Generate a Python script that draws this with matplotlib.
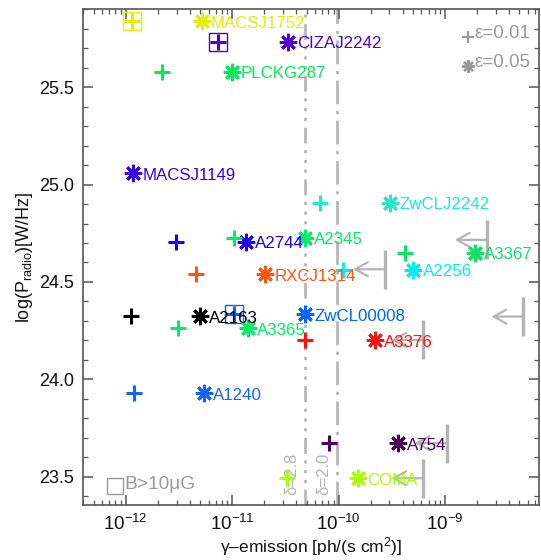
import numpy as np
import matplotlib
matplotlib.use("Agg")
import matplotlib.pyplot as plt
from matplotlib.ticker import FixedLocator, MultipleLocator, LogLocator, NullFormatter

plt.rcParams['font.family'] = ['Liberation Sans', 'DejaVu Sans']
plt.rcParams['mathtext.fontset'] = 'custom'
plt.rcParams['mathtext.rm'] = 'Liberation Sans'
plt.rcParams['mathtext.it'] = 'Liberation Sans:italic'

# ---------------- data ----------------
names = ['MACSJ1752', 'CIZAJ2242', 'PLCKG287', 'MACSJ1149', 'A2744', 'A2345',
         'ZwCLJ2242', 'A3367', 'A2256', 'RXCJ1314', 'A2163', 'ZwCL00008',
         'A3365', 'A3376', 'A1240', 'A754', 'COMA']
log_p = [25.84, 25.734, 25.58, 25.058, 24.707, 24.728,
         24.907, 24.650, 24.562, 24.541, 24.325, 24.334,
         24.262, 24.202, 23.928, 23.671, 23.493]
gamma_eps05 = [5.18e-12, 3.37e-11, 9.9e-12, 1.18e-12, 1.34e-11, 4.84e-11,
               3.05e-10, 1.92e-9, 5.05e-10, 2.04e-11, 4.99e-12, 4.84e-11,
               1.42e-11, 2.2e-10, 5.45e-12, 3.59e-10, 1.53e-10]
gamma_eps01 = [1.14e-12, 7.41e-12, 2.18e-12, np.nan, 2.97e-12, 1.04e-11,
               6.7e-11, 4.22e-10, 1.11e-10, 4.58e-12, 1.11e-12, 1.04e-11,
               3.12e-12, 4.84e-11, 1.2e-12, 8.2e-11, 3.28e-11]
strong_b = [True, True, False, False, False, False,
            False, False, False, False, False, True,
            False, False, False, False, False]
colors = ['#e2f000', '#5000d0', '#00ee55', '#3a00e0', '#2000ee', '#00ee66',
          '#22e8cc', '#10e066', '#00eeee', '#ff5511', '#000000', '#0066ff',
          '#00ee66', '#ff1111', '#1166ff', '#4b0055', '#aaff00']

# upper limits
ul_x = [2.47e-9, 2.73e-10, 5.46e-9, 6.27e-10, 1.04e-9, 6.27e-10]
ul_y = [24.716, 24.565, 24.322, 24.202, 23.672, 23.492]

# spectral index lines
delta_x = [4.84e-11, 9.6e-11]
delta_labels = ['δ=2.8', 'δ=2.0']
delta_styles = [(0, (6, 2.5, 1.2, 2.5, 1.2, 2.5, 1.2, 2.5)), (0, (9, 2.5, 1.2, 2.5))]

x_ticks = [1e-12, 1e-11, 1e-10, 1e-9]
x_ticklabels = ['$10^{-12}$', '$10^{-11}$', '$10^{-10}$', '$10^{-9}$']
y_ticks = [23.5, 24.0, 24.5, 25.0, 25.5]
y_ticklabels = ['23.5', '24.0', '24.5', '25.0', '25.5']

# ---------------- figure ----------------
fig = plt.figure(figsize=(5.41, 5.6), dpi=100)
ax = fig.add_axes([0.1529, 0.0977, 0.8440, 0.8857])
ax.set_xscale('log')
ax.set_xlim(10**-12.404, 10**-8.114)
ax.set_ylim(23.353, 25.90)

lgray = '#b4b4b4'
mgray = '#999999'

for xv, lab, ls in zip(delta_x, delta_labels, delta_styles):
    ax.axvline(xv, color=lgray, lw=1.9, ls=ls, zorder=1)
    ax.annotate(lab, xy=(xv, 23.515), xytext=(-9.5, 0), textcoords='offset points',
                rotation=90, ha='center', va='center', color=lgray, fontsize=12)

# upper limits
for xv, yv in zip(ul_x, ul_y):
    ax.plot([xv, xv], [yv - 0.1, yv + 0.1], color=lgray, lw=2.4, solid_capstyle='butt', zorder=2)
    ax.annotate('', xy=(xv / 2.0, yv), xytext=(xv, yv),
                arrowprops=dict(arrowstyle='->,head_length=0.45,head_width=0.25',
                                color=lgray, lw=1.6, mutation_scale=20,
                                shrinkA=0, shrinkB=0), zorder=2)

star_marker = (8, 2, 0)
for n, yv, xs, xp, sq, c in zip(names, log_p, gamma_eps05, gamma_eps01, strong_b, colors):
    ax.plot([xs], [yv], ls='none', marker=star_marker, ms=12.5, mew=2.0, color=c, zorder=4)
    if not np.isnan(xp):
        ax.plot([xp], [yv], ls='none', marker='+', ms=12, mew=2.2, color=c, zorder=4)
        if sq:
            ax.plot([xp], [yv], ls='none', marker='s', ms=13.5, mew=1.0, mfc='none',
                    mec=c, zorder=4)
    ax.annotate(n, xy=(xs, yv), xytext=(6.5, -1.5), textcoords='offset points',
                ha='left', va='center', color=c, fontsize=12.2, zorder=5)

# legend (upper right)
ax.plot([0.844], [0.944], transform=ax.transAxes, marker='+', ms=8, mew=1.6,
        color=mgray, ls='none', clip_on=False)
ax.text(0.857, 0.952, 'ε=0.01', transform=ax.transAxes, color=mgray, fontsize=13.5,
        ha='left', va='center')
ax.plot([0.844], [0.885], transform=ax.transAxes, marker=star_marker, ms=9, mew=1.6,
        color=mgray, ls='none', clip_on=False)
ax.text(0.857, 0.893, 'ε=0.05', transform=ax.transAxes, color=mgray, fontsize=13.5,
        ha='left', va='center')
# legend (lower left)
ax.plot([0.0707], [0.039], transform=ax.transAxes, marker='s', ms=11, mew=1.0,
        mfc='none', mec=mgray, ls='none')
ax.text(0.091, 0.041, 'B>10μG', transform=ax.transAxes, color=mgray, fontsize=13.8,
        ha='left', va='center')

# axes styling
spc = '#555555'
for s in ax.spines.values():
    s.set_color(spc)
    s.set_linewidth(1.2)
ax.yaxis.set_major_locator(FixedLocator(y_ticks))
ax.yaxis.set_minor_locator(MultipleLocator(0.1))
ax.set_yticklabels(y_ticklabels)
ax.xaxis.set_major_locator(FixedLocator(x_ticks))
ax.set_xticklabels(x_ticklabels)
ax.xaxis.set_minor_locator(LogLocator(base=10, subs=np.arange(2, 10), numticks=20))
ax.xaxis.set_minor_formatter(NullFormatter())
ax.tick_params(axis='both', which='both', direction='in', top=True, right=True,
               color=spc, labelcolor='#111111')
ax.tick_params(axis='y', which='major', labelsize=13)
ax.tick_params(axis='x', which='major', labelsize=13.5)
ax.tick_params(axis='both', which='major', length=7, width=1.1, pad=6)
ax.tick_params(axis='both', which='minor', length=3.5, width=0.9)

ax.set_xlabel('γ–emission [ph/(s cm$^{2}$)]', fontsize=12.5, labelpad=1, color='#111111')
ax.set_ylabel('log(P$_{\\rm radio}$)[W/Hz]', fontsize=13, labelpad=3, color='#111111')

fig.savefig('out.png', dpi=100)
